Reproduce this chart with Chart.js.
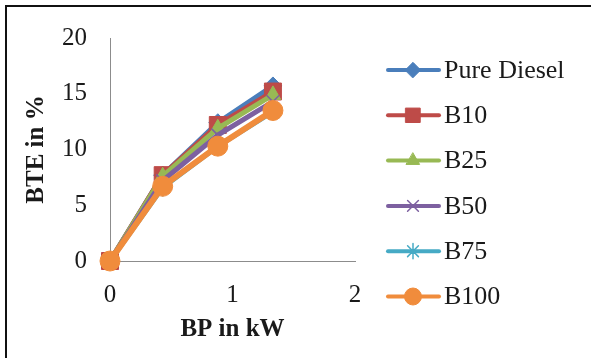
<!DOCTYPE html>
<html>
<head>
<meta charset="utf-8">
<script src="https://cdn.jsdelivr.net/npm/chart.js@4.4.1/dist/chart.umd.min.js"></script>
<style>
  body { margin: 0; background: #fff; }
  #wrap { position: relative; width: 591px; height: 358px; overflow: hidden; }
  #frame { position: absolute; left: 5px; top: 5px; width: 620px; height: 400px; border-left: 2px solid #111; border-top: 2px solid #111; }
  canvas { position: absolute; left: 0; top: 0; }
</style>
</head>
<body>
<div id="wrap">
  <div id="frame"></div>
  <canvas id="chart" width="591" height="358"></canvas>
</div>
<script>
// BP in kW (x axis)
const bpValues = [0, 0.43, 0.88, 1.33];

// BTE in % for each fuel
const pureDiesel = [0, 7.7, 12.4, 15.7];
const b10 = [0, 7.7, 12.2, 15.2];
const b25 = [0, 7.6, 11.9, 14.9];
const b50 = [0, 7.2, 11.3, 14.3];
const b75 = [0, 6.6, 10.3, 13.4];
const b100 = [0, 6.7, 10.3, 13.5];

const seriesNames = ['Pure Diesel', 'B10', 'B25', 'B50', 'B75', 'B100'];
const seriesValues = [pureDiesel, b10, b25, b50, b75, b100];
const yTicks = [0, 5, 10, 15, 20];
const xTicks = [0, 1, 2];

const colors = ['#4a7ebb', '#be4b48', '#98b954', '#7d60a0', '#46aac5', '#f08c3c'];
const markers = ['rectRot', 'rect', 'triangle', 'crossRot', 'star', 'circle'];
const markerSize = [9, 12, 9, 9, 9, 10];

const serif = '"Liberation Serif", "Times New Roman", serif';

function makeDataset(i) {
    let pts = [];
    for (let k = 0; k < bpValues.length; k++) {
        pts.push({ x: bpValues[k], y: seriesValues[i][k] });
    }
    let hollow = markers[i] === 'crossRot' || markers[i] === 'star';
    return {
        label: seriesNames[i],
        data: pts,
        borderColor: colors[i],
        backgroundColor: colors[i],
        borderWidth: i === 5 ? 6 : 5,
        pointStyle: markers[i],
        pointRadius: markerSize[i],
        pointBackgroundColor: colors[i],
        pointBorderColor: colors[i],
        pointBorderWidth: hollow ? 1.5 : 1,
        tension: 0,
        clip: false,
        order: seriesNames.length - i
    };
}

// legend on the right: line + marker + name
const sideLegend = {
    id: 'sideLegend',
    afterDraw(chart) {
        const ctx = chart.ctx;
        chart.data.datasets.forEach((ds, i) => {
            const y = 70 + i * 45.3;
            ctx.save();
            ctx.strokeStyle = ds.borderColor;
            ctx.lineWidth = 4;
            ctx.lineCap = 'round';
            ctx.beginPath();
            ctx.moveTo(388, y);
            ctx.lineTo(439, y);
            ctx.stroke();
            ctx.fillStyle = ds.pointBackgroundColor;
            ctx.strokeStyle = ds.pointBorderColor;
            ctx.lineWidth = ds.pointBorderWidth;
            Chart.helpers.drawPoint(ctx, {
                pointStyle: ds.pointStyle,
                radius: ds.pointRadius * 0.85,
                borderWidth: ds.pointBorderWidth,
                rotation: 0
            }, 413, y);
            ctx.fillStyle = '#1a1a1a';
            ctx.font = '26px ' + serif;
            ctx.textBaseline = 'middle';
            ctx.textAlign = 'left';
            ctx.fillText(ds.label, 444, y + 1);
            ctx.restore();
        });
    }
};

const ctx = document.getElementById('chart').getContext('2d');
new Chart(ctx, {
    type: 'line',
    data: {
        datasets: seriesNames.map((n, i) => makeDataset(i))
    },
    options: {
        responsive: false,
        animation: false,
        layout: { padding: { left: 0, top: 38, right: 236, bottom: 0 } },
        plugins: {
            legend: { display: false },
            tooltip: { enabled: false }
        },
        scales: {
            x: {
                type: 'linear',
                min: 0,
                max: 2,
                afterBuildTicks: (scale) => { scale.ticks = xTicks.map(v => ({ value: v })); },
                afterFit: (scale) => { scale.height = 97; },
                grid: { display: false, drawTicks: false },
                border: { display: true, color: '#8c8c8c', width: 1 },
                ticks: { padding: 19, color: '#1a1a1a', font: { family: serif, size: 25 } },
                title: {
                    display: true,
                    text: 'BP in kW',
                    color: '#1a1a1a',
                    font: { family: serif, size: 25, weight: 'bold' },
                    padding: { top: 0, bottom: 13 }
                }
            },
            y: {
                min: 0,
                max: 20,
                afterBuildTicks: (scale) => { scale.ticks = yTicks.map(v => ({ value: v })); },
                afterFit: (scale) => { scale.width = 110; },
                grid: { display: false, drawTicks: false },
                border: { display: true, color: '#8c8c8c', width: 1 },
                ticks: { padding: 23, color: '#1a1a1a', font: { family: serif, size: 25 } },
                title: {
                    display: true,
                    text: 'BTE in %',
                    color: '#1a1a1a',
                    font: { family: serif, size: 25, weight: 'bold' },
                    padding: { top: 22, bottom: 0 }
                }
            }
        }
    },
    plugins: [sideLegend]
});
</script>
</body>
</html>
